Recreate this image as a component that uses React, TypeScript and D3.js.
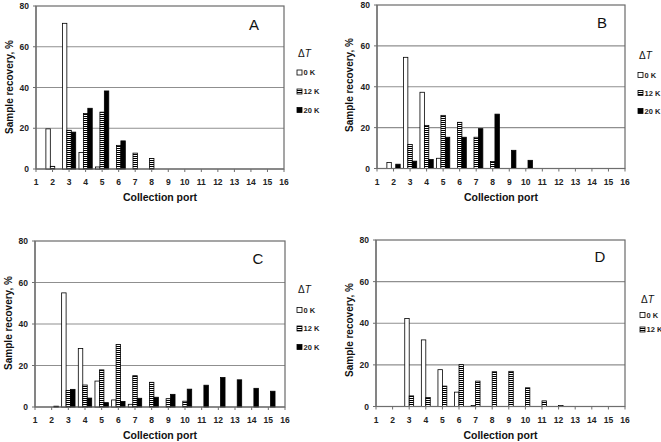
import React from 'react';
import * as d3 from 'd3';

// Collection ports 1..16 (x axis)
const ports = d3.range(1, 17);
const yTicks = [0, 20, 40, 60, 80];
const legendLabels = ['0 K', '12 K', '20 K'];

// Panel A
const a0K = [0, 19.7, 71.5, 8.1, 1.0, 0, 0, 0, 0, 0, 0, 0, 0, 0, 0, 0];
const a12K = [0, 1.3, 19.0, 27.2, 27.9, 11.6, 7.8, 5.2, 0, 0, 0, 0, 0, 0, 0, 0];
const a20K = [0, 0, 18.1, 29.8, 38.3, 13.8, 0, 0, 0, 0, 0, 0, 0, 0, 0, 0];
// Panel B
const b0K = [0, 2.9, 54.4, 37.3, 5.0, 0, 0, 0, 0, 0, 0, 0, 0, 0, 0, 0];
const b12K = [0, 0, 11.7, 21.1, 26.0, 22.6, 15.3, 3.4, 0, 0, 0, 0, 0, 0, 0, 0];
const b20K = [0, 2.1, 3.6, 4.4, 15.3, 15.3, 19.5, 26.6, 8.9, 4.0, 0, 0, 0, 0, 0, 0];
// Panel C
const c0K = [0, 0, 55.0, 28.2, 12.5, 3.4, 1.3, 0, 0, 0, 0, 0, 0, 0, 0, 0];
const c12K = [0, 0, 8.0, 10.6, 17.9, 30.1, 15.1, 11.9, 4.0, 2.8, 0, 0, 0, 0, 0, 0];
const c20K = [0, 0.4, 8.5, 4.3, 2.1, 2.7, 4.2, 4.7, 6.1, 8.6, 10.5, 14.2, 13.1, 9.0, 7.6, 0];
// Panel D
const d0K = [0, 0, 42.3, 32.0, 17.7, 6.9, 0.5, 0, 0, 0, 0, 0, 0, 0, 0, 0];
const d12K = [0, 0, 5.1, 4.3, 9.8, 20.1, 12.2, 16.7, 16.9, 9.0, 2.7, 0.5, 0, 0, 0, 0];

const FONT = '"Liberation Sans", Arial, sans-serif';

type Panel = {
  letter: string;
  series: number[][];
  left: number; right: number; top: number; bottom: number;
  letterX: number; letterY: number;
  yTitleX: number; yTitleY: number;
  legX: number; legTitleY: number; legYs: number[];
};

const panels: Panel[] = [
  { letter: 'A', series: [a0K, a12K, a20K], left: 36, right: 284, top: 6, bottom: 169,
    letterX: 254, letterY: 24, yTitleX: 9, yTitleY: 87, legX: 297, legTitleY: 53, legYs: [72.5, 91.5, 110] },
  { letter: 'B', series: [b0K, b12K, b20K], left: 377, right: 625, top: 5, bottom: 168.5,
    letterX: 602, letterY: 22, yTitleX: 349, yTitleY: 85, legX: 638, legTitleY: 55, legYs: [75, 93, 111] },
  { letter: 'C', series: [c0K, c12K, c20K], left: 35, right: 285, top: 241, bottom: 407,
    letterX: 258, letterY: 258, yTitleX: 8, yTitleY: 323, legX: 297, legTitleY: 289, legYs: [310, 328.5, 347] },
  { letter: 'D', series: [d0K, d12K], left: 376, right: 625, top: 240, bottom: 406.5,
    letterX: 600, letterY: 256, yTitleX: 349, yTitleY: 330, legX: 640, legTitleY: 299, legYs: [315, 329.5] },
];

const fills = ['#ffffff', 'url(#hatch)', '#000000'];

function PanelView({ p }: { p: Panel }) {
  const x = d3.scaleLinear().domain([1, 16]).range([p.left, p.right]);
  const y = d3.scaleLinear().domain([0, 80]).range([p.bottom, p.top]);
  const step = x(2) - x(1);
  const bw = step * 0.268;
  const n = p.series.length;
  return (
    <g>
      {/* gridlines */}
      {yTicks.filter(t => t > 0 && t < 80).map(t => (
        <line key={'g' + t} x1={p.left} x2={p.right} y1={y(t)} y2={y(t)} stroke="#8f8f8f" strokeWidth={1.2} />
      ))}
      {/* frame */}
      <rect x={p.left} y={p.top} width={p.right - p.left} height={p.bottom - p.top} fill="none" stroke="#6a6a6a" strokeWidth={1.2} />
      {/* bars */}
      {p.series.map((vals, si) =>
        vals.map((v, i) => v > 0 ? (
          <rect key={si + '-' + i}
            x={x(ports[i]) + (si - (n - 1) / 2) * bw - bw / 2}
            y={y(v)} width={bw} height={y(0) - y(v)}
            fill={fills[si]} stroke="#000" strokeWidth={0.8} />
        ) : null)
      )}
      {/* x axis */}
      <line x1={p.left} x2={p.right} y1={p.bottom} y2={p.bottom} stroke="#6e6e6e" strokeWidth={1.2} />
      {ports.map(t => (
        <g key={'xt' + t}>
          <line x1={x(t)} x2={x(t)} y1={p.bottom} y2={p.bottom + 3} stroke="#6e6e6e" />
          <text x={x(t)} y={p.bottom + 16} textAnchor="middle" fontSize={8.5} fontWeight="bold" fontFamily={FONT} fill="#222">{t}</text>
        </g>
      ))}
      {/* y axis */}
      <line x1={p.left} x2={p.left} y1={p.top} y2={p.bottom} stroke="#6e6e6e" strokeWidth={1.2} />
      {yTicks.map(t => (
        <g key={'yt' + t}>
          <line x1={p.left - 3} x2={p.left} y1={y(t)} y2={y(t)} stroke="#6e6e6e" />
          <text x={p.left - 7} y={y(t) + 3.2} textAnchor="end" fontSize={8.5} fontWeight="bold" fontFamily={FONT} fill="#222">{t}</text>
        </g>
      ))}
      {/* axis titles */}
      <text x={(p.left + p.right) / 2} y={p.bottom + 32} textAnchor="middle" fontSize={10.5} fontWeight="bold" fontFamily={FONT} fill="#111">Collection port</text>
      <text transform={`translate(${p.yTitleX},${p.yTitleY}) rotate(-90)`} y={3.5} textAnchor="middle" fontSize={10} fontWeight="bold" fontFamily={FONT} fill="#111">Sample recovery, %</text>
      {/* panel letter */}
      <text x={p.letterX} y={p.letterY + 5.5} textAnchor="middle" fontSize={15} fontFamily={FONT} fill="#111">{p.letter}</text>
      {/* legend */}
      <text x={p.legX + 1} y={p.legTitleY + 4} fontSize={10} fontFamily={FONT} fill="#111">Δ<tspan fontStyle="italic">T</tspan></text>
      {p.legYs.map((ly, si) => (
        <g key={'l' + si}>
          <rect x={p.legX} y={ly - 2.5} width={5} height={5} fill={fills[si]} stroke="#000" strokeWidth={0.8} />
          <text x={p.legX + 6.5} y={ly + 2.6} fontSize={7.5} fontWeight="bold" fontFamily={FONT} fill="#222">{legendLabels[si]}</text>
        </g>
      ))}
    </g>
  );
}

export default function App() {
  return (
    <svg width={661} height={442} style={{ position: 'absolute', left: 0, top: 0, background: '#fff' }}>
      <defs>
        <pattern id="hatch" patternUnits="userSpaceOnUse" width={4} height={2}>
          <rect x={0} y={0} width={4} height={2} fill="#fff" />
          <rect x={0} y={0} width={4} height={1} fill="#000" />
        </pattern>
      </defs>
      <rect x={0} y={0} width={661} height={442} fill="#fff" />
      {panels.map(p => <PanelView key={p.letter} p={p} />)}
    </svg>
  );
}
